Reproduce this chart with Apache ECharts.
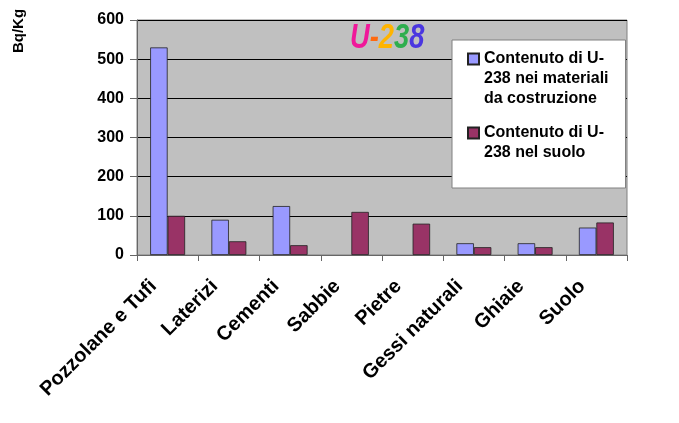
<!DOCTYPE html>
<html>
<head>
<meta charset="utf-8">
<script src="https://cdn.jsdelivr.net/npm/echarts@6/dist/echarts.min.js"></script>
<style>
html,body{margin:0;padding:0;background:#fff;}
#chart{width:679px;height:423px;}
</style>
</head>
<body>
<div id="chart"></div>
<script>
var categories = ['Pozzolane e Tufi','Laterizi','Cementi','Sabbie','Pietre','Gessi naturali','Ghiaie','Suolo'];
var seriesNames = ['Contenuto di U-238 nei materiali da costruzione','Contenuto di U-238 nel suolo'];
var legendLabels = ['Contenuto di U-\n238 nei materiali\nda costruzione','Contenuto di U-\n238 nel suolo'];
var valuesMateriali = [530, 90, 125, null, null, 30, 30, 70];
var valuesSuolo = [100, 35, 25, 110, 80, 20, 20, 83];
var yMin = 0, yMax = 600, yStep = 100;
var titleText = 'U-238';
var titleColors = ['#F0189A', '#FF6A10', '#FFB400', '#2EAE4E', '#4A36E0'];
var yUnit = 'Bq/Kg';

var FONT = 'Liberation Sans, Arial, sans-serif';
var TITLE_FONT = 'italic bold 35px ' + FONT;
var chart = echarts.init(document.getElementById('chart'), null, {renderer:'canvas'});

// rainbow title: one rich-text token per character
var titleRich = {};
var titleRichText = titleText.split('').map(function(ch, i){
  titleRich['c' + i] = {fill: titleColors[i % titleColors.length], font: TITLE_FONT};
  return '{c' + i + '|' + ch + '}';
}).join('');

var option = {
  backgroundColor: '#fff',
  animation: false,
  color: ['#9999FF', '#993366'],
  grid: {
    left: 137, right: 52, top: 20, bottom: 168,
    show: true, backgroundColor: '#C0C0C0', borderColor: '#808080', borderWidth: 1,
    containLabel: false
  },
  legend: {
    orient: 'vertical',
    left: 452, top: 40,
    backgroundColor: '#fff',
    borderColor: '#808080', borderWidth: 1,
    padding: [8, 17, 14, 15],
    itemWidth: 11, itemHeight: 60,
    itemGap: 2,
    itemTextGap: 6,
    data: [
      {name: seriesNames[0], icon: 'path://M0,0M0,4.5H11V15.5H0ZM11,60'},
      {name: seriesNames[1], icon: 'path://M0,0M0,14.5H11V25.5H0ZM11,60'}
    ],
    formatter: function(n){ return legendLabels[seriesNames.indexOf(n)]; },
    textStyle: {fontFamily: FONT, fontWeight: 'bold', fontSize: 16, color: '#000', lineHeight: 20}
  },
  xAxis: {
    type: 'category',
    data: categories,
    boundaryGap: true,
    axisLine: {lineStyle: {color: '#666', width: 1}},
    axisTick: {show: true, length: 6, lineStyle: {color: '#666'}},
    axisLabel: {rotate: 45, interval: 0, margin: 14, padding: [0, 20, 0, 0], color: '#000',
      fontFamily: FONT, fontWeight: 'bold', fontSize: 20},
    splitLine: {show: false}
  },
  yAxis: {
    type: 'value',
    min: yMin, max: yMax, interval: yStep,
    axisLine: {show: true, lineStyle: {color: '#666', width: 1}},
    axisTick: {show: true, inside: false, length: 7, lineStyle: {color: '#666'}},
    axisLabel: {margin: 13, color: '#000', fontFamily: FONT, fontWeight: 'bold', fontSize: 16},
    splitLine: {show: true, lineStyle: {color: '#000', width: 1}}
  },
  series: [
    {name: seriesNames[0], type: 'bar', data: valuesMateriali, barGap: '0%', barCategoryGap: '43%',
      itemStyle: {borderColor: '#222', borderWidth: 0.8}},
    {name: seriesNames[1], type: 'bar', data: valuesSuolo, barGap: '0%', barCategoryGap: '43%',
      itemStyle: {borderColor: '#222', borderWidth: 0.8}}
  ],
  graphic: [
    {type: 'text', x: 350, y: 21, scaleX: 0.78, z: 100,
      style: {text: titleRichText, rich: titleRich, align: 'left', verticalAlign: 'top',
        font: TITLE_FONT, fill: '#000'}},
    {type: 'text', x: 18.5, y: 31, rotation: Math.PI/2, z: 100,
      style: {text: yUnit, align: 'center', verticalAlign: 'middle',
        font: 'bold 15px ' + FONT, fill: '#000'}}
  ]
};
chart.setOption(option);
</script>
</body>
</html>
